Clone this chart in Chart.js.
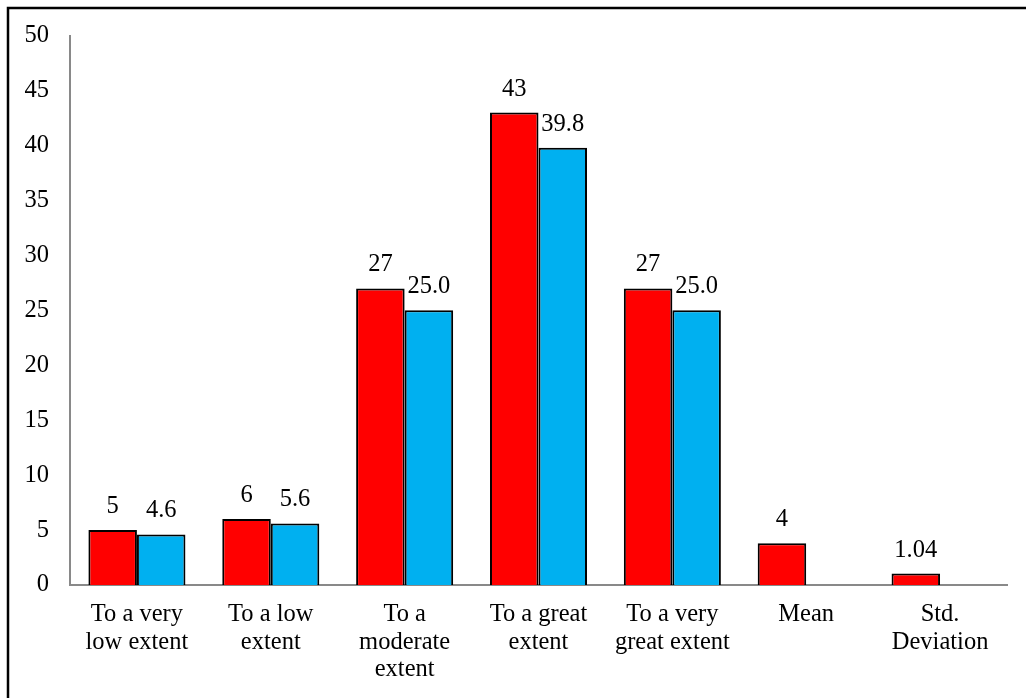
<!DOCTYPE html>
<html>
<head>
<meta charset="utf-8">
<script src="https://cdn.jsdelivr.net/npm/chart.js@4"></script>
<style>
html,body{margin:0;padding:0;background:#fff;overflow:hidden;}
#wrap{position:absolute;left:0;top:0;width:1026px;height:698px;}
</style>
</head>
<body>
<div id="wrap"><canvas id="c" width="1026" height="698"></canvas></div>
<script>
const categories = [["To a very","low extent"],["To a low","extent"],["To a","moderate","extent"],["To a great","extent"],["To a very","great extent"],["Mean"],["Std.","Deviation"]];
const redValues = [5, 6, 27, 43, 27, 3.8, 1.04];
const blueValues = [4.6, 5.6, 25.0, 39.8, 25.0, null, null];
const redLabels = ["5","6","27","43","27","4","1.04"];
const blueLabels = ["4.6","5.6","25.0","39.8","25.0","",""];
const yTicks = [0,5,10,15,20,25,30,35,40,45,50];

const FONT = "'Liberation Serif','Times New Roman',serif";
const FSIZE = 24.5;

const labelPlugin = {
  id: 'valueLabels',
  afterDatasetsDraw(chart){
    const ctx = chart.ctx;
    const texts = [redLabels, blueLabels];
    ctx.save();
    ctx.font = FSIZE + "px " + FONT;
    ctx.fillStyle = "#000";
    ctx.textAlign = "center";
    ctx.textBaseline = "alphabetic";
    chart.data.datasets.forEach((ds, di) => {
      const meta = chart.getDatasetMeta(di);
      meta.data.forEach((bar, i) => {
        const t = texts[di][i];
        if (!t || ds.data[i] == null) return;
        ctx.fillText(t, bar.x, bar.y - 17);
      });
    });
    ctx.restore();
  }
};

const framePlugin = {
  id: 'frame',
  afterDraw(chart){
    const ctx = chart.ctx;
    ctx.save();
    ctx.strokeStyle = "#000";
    ctx.lineWidth = 2.5;
    ctx.beginPath();
    ctx.moveTo(8, 698);
    ctx.lineTo(8, 8);
    ctx.lineTo(1026, 8);
    ctx.stroke();
    ctx.restore();
  }
};

new Chart(document.getElementById('c'), {
  type: 'bar',
  data: {
    labels: categories,
    datasets: [
      { data: redValues, backgroundColor: '#FF0000', borderColor: '#000', borderWidth: 2, borderSkipped: 'bottom' },
      { data: blueValues, backgroundColor: '#00B0F0', borderColor: '#000', borderWidth: 2, borderSkipped: 'bottom' }
    ]
  },
  options: {
    responsive: false,
    animation: false,
    devicePixelRatio: 1,
    layout: { padding: { top: 35, right: 19, left: 0, bottom: 0 } },
    plugins: { legend: { display: false }, tooltip: { enabled: false } },
    datasets: { bar: { categoryPercentage: 0.725, barPercentage: 1.0 } },
    scales: {
      x: {
        grid: { display: false, drawTicks: false },
        border: { display: true, color: '#898989', width: 2 },
        ticks: { color: '#000', font: { family: FONT, size: FSIZE, lineHeight: 1.12 }, padding: 16, maxRotation: 0, autoSkip: false },
        afterFit(scale){ scale.height = 113; }
      },
      y: {
        min: 0, max: 50,
        afterBuildTicks(scale){ scale.ticks = yTicks.map(v => ({ value: v })); },
        grid: { display: false, drawTicks: false },
        border: { display: true, color: '#898989', width: 2 },
        ticks: { color: '#000', font: { family: FONT, size: FSIZE }, padding: 21 },
        afterFit(scale){ scale.width = 70; }
      }
    }
  },
  plugins: [labelPlugin, framePlugin]
});
</script>
</body>
</html>
